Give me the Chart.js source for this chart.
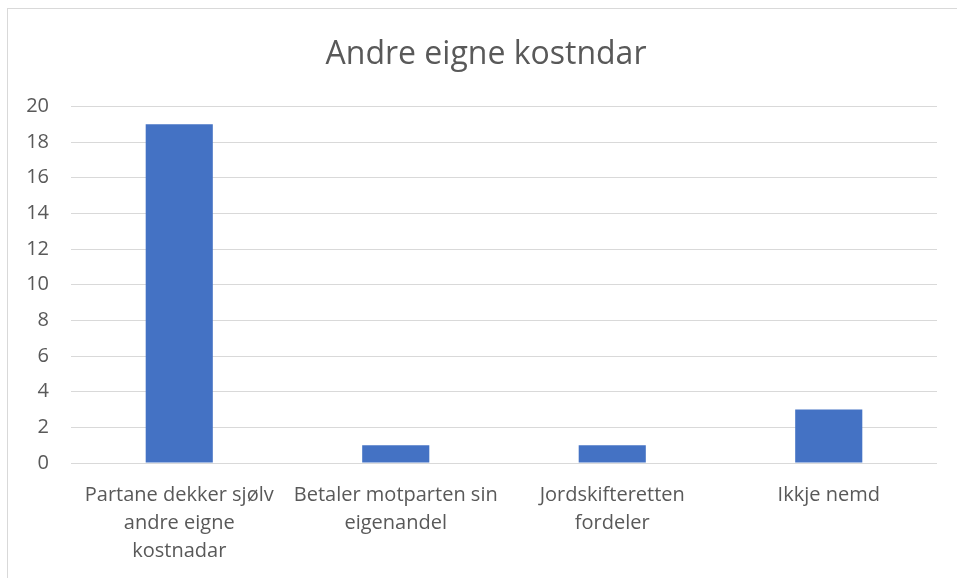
<!DOCTYPE html>
<html>
<head>
<meta charset="utf-8">
<script src="https://cdn.jsdelivr.net/npm/chart.js@4"></script>
<style>
    html, body { margin: 0; padding: 0; overflow: hidden; background: #fff; }
    #wrap { position: relative; width: 957px; height: 578px; }
    #frame { position: absolute; left: 7px; top: 8px; width: 1000px; height: 1000px; border: 1px solid #d9d9d9; box-sizing: border-box; }
    #kostChart { position: absolute; left: 0; top: 0; }
</style>
</head>
<body>
<div id="wrap">
    <div id="frame"></div>
    <canvas id="kostChart" width="957" height="578"></canvas>
</div>
<script>
const chartTitle = 'Andre eigne kostndar';
const categories = [
    ['Partane dekker sjølv', 'andre eigne', 'kostnadar'],
    ['Betaler motparten sin', 'eigenandel'],
    ['Jordskifteretten', 'fordeler'],
    ['Ikkje nemd']
];
const counts = [19, 1, 1, 3];
const yTicks = [0, 2, 4, 6, 8, 10, 12, 14, 16, 18, 20];

const textColor = '#595959';
const gridColor = '#d9d9d9';
const fontFamily = '"Open Sans", sans-serif';

// title sits a bit right of the canvas centre in the original
const shiftTitle = {
    id: 'shiftTitle',
    afterLayout(chart) {
        if (chart.titleBlock) chart.titleBlock.left += 14;
    }
};

const ctx = document.getElementById('kostChart').getContext('2d');
new Chart(ctx, {
    type: 'bar',
    data: {
        labels: categories,
        datasets: [{
            data: counts,
            backgroundColor: '#4472c4',
            borderWidth: 0,
            barPercentage: 0.31,
            categoryPercentage: 1.0
        }]
    },
    plugins: [shiftTitle],
    options: {
        responsive: false,
        animation: false,
        layout: { padding: { left: 21, right: 20, top: 8, bottom: -5 } },
        plugins: {
            legend: { display: false },
            tooltip: { enabled: false },
            title: {
                display: true,
                text: chartTitle,
                color: textColor,
                font: { family: fontFamily, size: 32, weight: 'normal' },
                padding: { top: 28, bottom: 32 }
            }
        },
        scales: {
            x: {
                grid: { display: false, drawTicks: false },
                border: { display: false },
                ticks: {
                    color: textColor,
                    font: { family: fontFamily, size: 20, lineHeight: 1.4 },
                    padding: 18,
                    maxRotation: 0,
                    autoSkip: false
                }
            },
            y: {
                min: yTicks[0],
                max: yTicks[yTicks.length - 1],
                afterFit: (s) => { s.width = 50; },
                afterBuildTicks: (s) => { s.ticks = yTicks.map(v => ({ value: v })); },
                grid: { color: gridColor, lineWidth: 1, drawTicks: false },
                border: { display: false },
                ticks: {
                    color: textColor,
                    font: { family: fontFamily, size: 20 },
                    padding: 22
                }
            }
        }
    }
});
</script>
</body>
</html>
